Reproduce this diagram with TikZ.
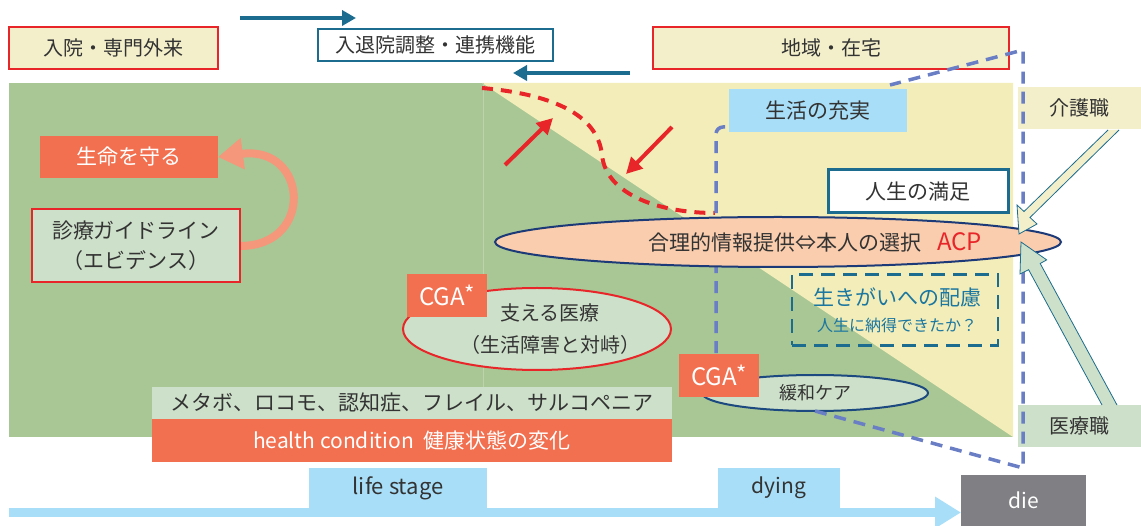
\documentclass[tikz,border=0pt]{standalone}
\usepackage{fontspec}
\setmainfont{Noto Sans CJK JP}
\usetikzlibrary{arrows.meta,shapes.geometric,calc}
\definecolor{bggreen}{HTML}{A9C795}
\definecolor{bgyellow}{HTML}{F3EEB9}
\definecolor{boxyellow}{HTML}{F3EFCB}
\definecolor{lgreen}{HTML}{CDE0C9}
\definecolor{coral}{HTML}{F2704F}
\definecolor{bred}{HTML}{E8262A}
\definecolor{teal1}{HTML}{1B6C8F}
\definecolor{lblue}{HTML}{A8DEF7}
\definecolor{peach}{HTML}{F9CDAD}
\definecolor{navy1}{HTML}{1D3A78}
\definecolor{salmon1}{HTML}{F4977B}
\definecolor{gray1}{HTML}{808084}
\definecolor{peri}{HTML}{6A7EC5}
\definecolor{txt}{HTML}{333333}
\definecolor{ikteal}{HTML}{1B76A0}
\definecolor{faint}{HTML}{BDD3AC}
\begin{document}
\begin{tikzpicture}[x=1pt,y=-1pt,
  every node/.style={text=txt, inner sep=0pt, outer sep=0pt, font=\fontsize{20}{24}\selectfont},
  rbox/.style={rectangle, align=center},
  ebox/.style={ellipse, align=center},
  tealarrow/.style={teal1, line width=4pt, -{Triangle[length=14pt,width=15pt]}},
  redarrow/.style={bred, line width=4pt, -{Triangle[length=16pt,width=16pt]}},
  reddash/.style={bred, line width=4pt, dash pattern=on 11pt off 8pt},
  peridash/.style={peri, line width=3.5pt, dash pattern=on 12pt off 8pt},
  blockarrow/.style={draw=teal1, line width=0.8pt},
  cgatext/.style={text=white},
]
\useasboundingbox (0,0) rectangle (1141,526);

% background
\fill[bggreen] (9,83) rectangle (1013,437);
\fill[bgyellow] (482,83) -- (1013,83) -- (1013,437) -- cycle;
\draw[faint, line width=1pt] (483,83) -- (483,437);

% top boxes
\node[rbox, fill=boxyellow, draw=bred, line width=2pt, minimum width=209pt, minimum height=42pt] (nyuin) at (113.5,48) {入院・専門外来};
\node[rbox, fill=white, draw=teal1, line width=2pt, minimum width=235pt, minimum height=32pt] (renkei) at (435.5,45) {入退院調整・連携機能};
\node[rbox, fill=boxyellow, draw=bred, line width=2pt, minimum width=356pt, minimum height=42pt] (chiiki) at (831,48) {地域・在宅};
\node[rbox, fill=boxyellow, minimum width=123pt, minimum height=42pt] (kaigo) at (1079.5,108) {介護職};
\node[rbox, fill=lgreen, minimum width=123pt, minimum height=42pt] (iryo) at (1079.5,426) {医療職};

\coordinate (ta1) at (240,18);
\coordinate (ta2) at (356,18);
\coordinate (tb1) at (630,73);
\coordinate (tb2) at (513,73);
\draw[tealarrow] (ta1) -- (ta2);
\draw[tealarrow] (tb1) -- (tb2);

% bottom
\node[rbox, fill=gray1, text=white, minimum width=125pt, minimum height=51pt, font=\fontsize{21}{24}\selectfont] (die) at (1023.5,500.5) {die};
\coordinate (lsStart) at (9,512.5);
\draw[lblue, line width=9pt, -{Triangle[length=26pt,width=30pt]}] (lsStart) -- (lsStart -| die.west);
\node[rbox, fill=lblue, minimum width=178pt, minimum height=40pt, font=\fontsize{22}{26}\selectfont] (lifestage) at (398,488) {life stage};
\node[rbox, fill=lblue, minimum width=122pt, minimum height=40pt, font=\fontsize{21}{26}\selectfont] (dying) at (779,488) {dying};

% red dashed curve and arrows
\draw[reddash] (482,88) .. controls (560,95) and (598,118) .. (602,155) .. controls (606,195) and (660,213) .. (715,213);
\coordinate (ra1) at (505,165);
\coordinate (ra2) at (553,118);
\coordinate (rb1) at (672,127);
\coordinate (rb2) at (626,174);
\draw[redarrow] (ra1) -- (ra2);
\draw[redarrow] (rb1) -- (rb2);

% blue dashed lines
\draw[peridash, rounded corners=7pt] (745,127) -- (716,127) -- (716,372);
\coordinate (pdA) at (1023,468);
\coordinate (pdB) at (1023,50);
\coordinate (pdC) at (890,85);

% salmon arrow and left nodes
\node[rbox, fill=coral, text=white, minimum width=178pt, minimum height=42pt, font=\fontsize{21}{24}\selectfont] (seimei) at (129,157) {生命を守る};
\coordinate (shE) at (240,246);
\draw[salmon1, line width=8pt, -{Triangle[length=25pt,width=30pt]}] (shE) .. controls +(75,0) and +(90,-12) .. (seimei.east);
\node[rbox, fill=lgreen, draw=bred, line width=2.5pt, minimum width=208pt, minimum height=73pt, font=\fontsize{21}{30}\selectfont] (shinryo) at (136,245.5) {診療ガイドライン\\（エビデンス）};

% right nodes
\node[rbox, fill=lblue, minimum width=178pt, minimum height=43pt, font=\fontsize{21}{24}\selectfont] (seikatsu) at (818,110.5) {生活の充実};
\node[rbox, fill=white, draw=teal1, line width=3pt, minimum width=180pt, minimum height=43pt, font=\fontsize{21}{24}\selectfont] (manzoku) at (918,191.5) {人生の満足};

\node[ebox, fill=lgreen, draw=navy1!70!teal1, line width=2pt, minimum width=226pt, minimum height=36pt] (kanwa) at (815,393) {};
\draw[peridash] (kanwa.south) -- (pdA) -- (pdB) -- (pdC);

\node[ebox, fill=peach, draw=navy1, line width=2pt, minimum width=566pt, minimum height=50pt] (acp) at (778,242) {};
\node[font=\fontsize{21}{24}\selectfont] (acptext) at (815,242) {合理的情報提供⇔本人の選択\hspace{16pt}{\color{bred}\fontsize{24}{26}\selectfont ACP}};

\node[rbox, draw=teal1, line width=2.5pt, dash pattern=on 14pt off 8pt, minimum width=206pt, minimum height=71pt] (ikigai) at (895,310) {};
\node[align=center, text=ikteal] (ikigaitext) at (897,310) {{\fontsize{21}{24}\selectfont 生きがいへの配慮}\\[2pt]{\fontsize{16}{18}\selectfont 人生に納得できたか？}};

\node[ebox, fill=lgreen, draw=bred, line width=2pt, minimum width=268pt, minimum height=82pt] (sasaeru) at (537,329) {};
\node[align=center, font=\fontsize{20}{32}\selectfont] (sasaerutext) at (550,329) {支える医療\\（生活障害と対峙）};
\node[rbox, fill=coral, cgatext, minimum width=80pt, minimum height=43pt] (cga1) at (447,295.5) {{\fontsize{24}{28}\selectfont CGA}\raisebox{3pt}{\fontsize{22}{22}\selectfont *}};

\node[font=\fontsize{18}{22}\selectfont] (kanwatext) at (815,393) {緩和ケア};
\node[rbox, fill=coral, cgatext, minimum width=80pt, minimum height=43pt] (cga2) at (719,375.5) {{\fontsize{24}{28}\selectfont CGA}\raisebox{3pt}{\fontsize{22}{22}\selectfont *}};

\node[rbox, fill=lgreen, minimum width=520pt, minimum height=32pt, font=\fontsize{21}{24}\selectfont] (metabo) at (412,403) {メタボ、ロコモ、認知症、フレイル、サルコペニア};
\node[rbox, fill=coral, text=white, minimum width=520pt, minimum height=43pt, font=\fontsize{21}{24}\selectfont] (health) at (412,440.5) {health condition\hspace{10pt}健康状態の変化};

% block arrows
\fill[boxyellow] (1108,130) -- (1024,211.5) -- (1017,205) -- (1019,234) -- (1037,224) -- (1030,217.5) -- (1119,130) -- cycle;
\draw[blockarrow] (1108,130) -- (1024,211.5) -- (1017,205) -- (1019,234) -- (1037,224) -- (1030,217.5) -- (1119,130);
\fill[lgreen] (1102,405) -- (1028.6,269.7) -- (1020,274) -- (1021,242) -- (1046.7,259.9) -- (1040.2,263.5) -- (1117,405) -- cycle;
\draw[blockarrow] (1102,405) -- (1028.6,269.7) -- (1020,274) -- (1021,242) -- (1046.7,259.9) -- (1040.2,263.5) -- (1117,405);
\end{tikzpicture}
\end{document}
